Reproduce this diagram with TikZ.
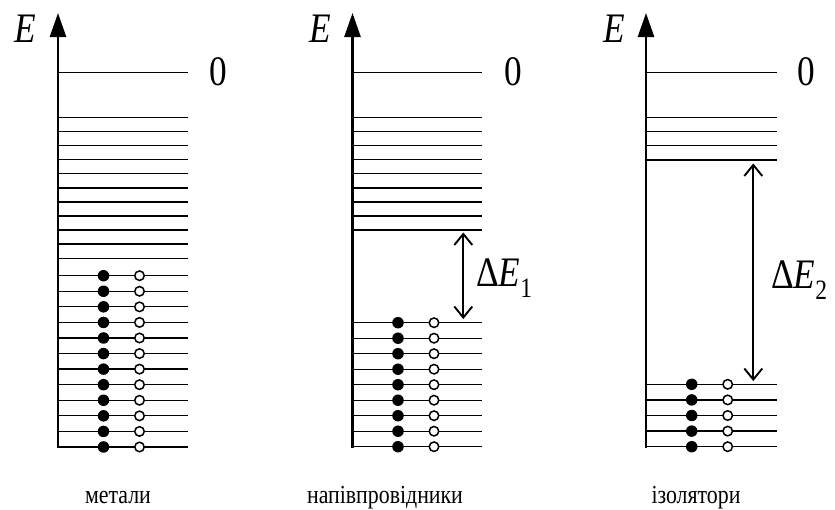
\documentclass[tikz,border=0pt]{standalone}
\usepackage{fontspec}
\setmainfont[FakeStretch=0.84]{Liberation Serif}
\usetikzlibrary{arrows.meta}

\begin{document}
\begin{tikzpicture}[x=1pt,y=-1pt,
  level/.style={line width=1.3pt},
  axis/.style={line width=2.6pt,-{Triangle[length=24pt,width=16pt]}},
  gap/.style={line width=1.9pt,{Straight Barb[length=11pt,width=18pt,line width=1.9pt]}-{Straight Barb[length=11pt,width=18pt,line width=1.9pt]}},
  full/.style={circle,fill=black,inner sep=0pt,minimum size=11.5pt},
  hole/.style={circle,draw=black,fill=white,line width=1.5pt,inner sep=0pt,minimum size=9.5pt},
  big/.style={inner sep=0pt,font=\fontsize{42}{46}\selectfont},
  caption/.style={inner sep=0pt,anchor=base,font=\fontsize{26}{30}\selectfont}]
\useasboundingbox (0,0) rectangle (835,509);

\newcommand\gaplabel[1]{Δ\textit{E}\raisebox{-0.26em}{\fontsize{28}{30}\selectfont #1}}

% ---------- metals ----------
\draw[level] (58,72.5) -- (187.5,72.5);
\foreach \k in {0,...,10}
  \draw[level] (58,{117.5+14.07*\k}) -- ++(129.5,0);
\foreach \k in {0,...,11} {
  \draw[level] (58,{275.7+15.57*\k}) -- ++(129.5,0);
  \node[full] (ma\k) at (103.5,{275.7+15.57*\k}) {};
  \node[hole] (mb\k) at (139.5,{275.7+15.57*\k}) {};
}
\draw[axis] (58,448) -- (58,13);
\node[big] (E1) at (25.5,28.5) {\textit{E}};
\node[big] (z1) at (218,72) {0};
\node[caption] (c1) at (118,503) {метали};

% ---------- semiconductors ----------
\draw[level] (352.5,72.5) -- (482,72.5);
\foreach \k in {0,...,8}
  \draw[level] (352.5,{117.5+14.07*\k}) -- ++(129.5,0);
\foreach \k in {0,...,8} {
  \draw[level] (352.5,{322.7+15.5*\k}) -- ++(129.5,0);
  \node[full] (sa\k) at (398,{322.7+15.5*\k}) {};
  \node[hole] (sb\k) at (434,{322.7+15.5*\k}) {};
}
\draw[axis] (352.5,448) -- (352.5,13);
\node[big] (E2) at (320.5,28.5) {\textit{E}};
\node[big] (z2) at (513,72) {0};
\coordinate (s1) at (463.3,232.5);
\coordinate (s2) at (463.3,319);
\draw[gap] (s1) -- (s2);
\node[big,anchor=west] (d1) at (476,278) {\gaplabel{1}};
\node[caption] (c2) at (385,503) {напівпровідники};

% ---------- insulators ----------
\draw[level] (646,72.5) -- (776.5,72.5);
\foreach \k in {0,...,3}
  \draw[level] (646,{117.3+14.2*\k}) -- ++(130.5,0);
\foreach \k in {0,...,4} {
  \draw[level] (646,{384.3+15.6*\k}) -- ++(130.5,0);
  \node[full] (ia\k) at (691.7,{384.3+15.6*\k}) {};
  \node[hole] (ib\k) at (727.7,{384.3+15.6*\k}) {};
}
\draw[axis] (646,448) -- (646,13);
\node[big] (E3) at (614,28.5) {\textit{E}};
\node[big] (z3) at (806.5,72) {0};
\coordinate (t1) at (753.3,163.5);
\coordinate (t2) at (753.3,381);
\draw[gap] (t1) -- (t2);
\node[big,anchor=west] (d2) at (771,280) {\gaplabel{2}};
\node[caption] (c3) at (696,503) {ізолятори};
\end{tikzpicture}
\end{document}
